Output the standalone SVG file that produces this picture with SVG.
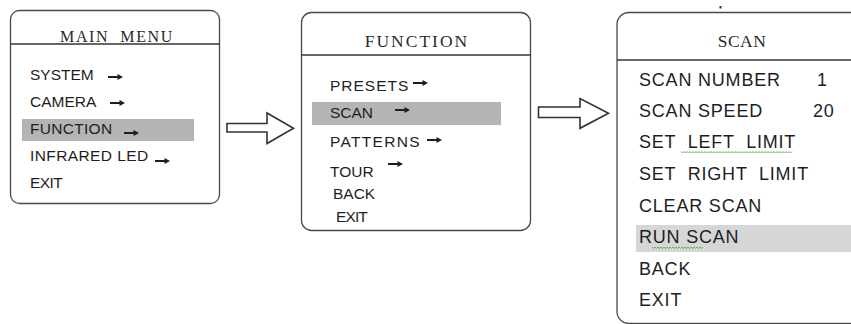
<svg xmlns="http://www.w3.org/2000/svg" width="851" height="324" viewBox="0 0 851 324">
<style>
.box{fill:#fff;stroke:#4a4a4a;stroke-width:1.3}
.hdr{stroke:#333;stroke-width:1.3}
.ttl{font-family:"Liberation Serif",serif;fill:#2a2a2a;text-anchor:middle}
.it{font-family:"Liberation Sans",Arial,sans-serif;fill:#1e1e1e}
.it15{font-size:15.5px}
.it18{font-size:18px;letter-spacing:0.8px}
.big{fill:#fff;stroke:#333;stroke-width:1.6;stroke-linejoin:miter}
.sq{fill:none;stroke:#4caf50;stroke-width:0.9}
</style>
<defs>
<symbol id="sa" viewBox="0 0 15 8" width="15" height="8" overflow="visible">
<path d="M0 3H9.5V1L15 4L9.5 7V5H0Z" fill="#1e1e1e"/>
</symbol>
</defs>
<rect width="851" height="324" fill="#fff"/>

<g id="main-menu">
<rect class="box" x="10.5" y="10.5" width="209" height="193" rx="9"/>
<line class="hdr" x1="10.5" y1="44" x2="219.5" y2="44"/>
<text class="ttl" x="117" y="42" font-size="16" letter-spacing="1.6">MAIN&#160; MENU</text>
<rect x="22" y="119" width="172" height="22" fill="#b4b4b4"/>
<text class="it it15" x="30" y="80" letter-spacing="0">SYSTEM</text>
<use href="#sa" x="108" y="73"/>
<text class="it it15" x="30" y="107" letter-spacing="0">CAMERA</text>
<use href="#sa" x="110" y="99"/>
<text class="it it15" x="30" y="134" letter-spacing="0.3">FUNCTION</text>
<use href="#sa" x="124" y="129"/>
<text class="it it15" x="30" y="161" letter-spacing="0.4">INFRARED LED</text>
<use href="#sa" x="155" y="157"/>
<text class="it it15" x="30" y="188" letter-spacing="-0.6">EXIT</text>
</g>

<g id="function-menu">
<rect class="box" x="301.5" y="12.5" width="229" height="218" rx="10"/>
<line class="hdr" x1="301.5" y1="55" x2="530.5" y2="55"/>
<text class="ttl" x="417" y="47" font-size="17.5" letter-spacing="2">FUNCTION</text>
<rect x="312" y="102" width="189" height="23" fill="#b4b4b4"/>
<text class="it it15" x="330" y="91" letter-spacing="1">PRESETS</text>
<use href="#sa" x="413" y="79"/>
<text class="it it15" x="330" y="118">SCAN</text>
<use href="#sa" x="395" y="106"/>
<text class="it it15" x="330" y="147" letter-spacing="1.3">PATTERNS</text>
<use href="#sa" x="427" y="136"/>
<text class="it it15" x="330" y="177">TOUR</text>
<use href="#sa" x="388" y="160"/>
<text class="it it15" x="333" y="199">BACK</text>
<text class="it it15" x="336" y="222" letter-spacing="-0.9">EXIT</text>
</g>

<g id="scan-menu">
<rect x="719.5" y="6" width="2" height="2.5" fill="#333"/>
<rect class="box" x="617" y="12.5" width="270" height="311" rx="12"/>
<line class="hdr" x1="617" y1="60" x2="851" y2="60"/>
<text class="ttl" x="742" y="47" font-size="17.5" letter-spacing="0.5">SCAN</text>
<rect x="636" y="225" width="215" height="27" fill="#d6d6d6"/>
<text class="it it18" x="639" y="86">SCAN NUMBER</text>
<text class="it it18" x="817" y="86">1</text>
<text class="it it18" x="639" y="117">SCAN SPEED</text>
<text class="it it18" x="813" y="117">20</text>
<text class="it it18" x="639" y="148" xml:space="preserve">SET  LEFT  LIMIT</text>
<path class="sq" d="M681 151.5l1.5 1.5l1.5-1.5l1.5 1.5l1.5-1.5l1.5 1.5l1.5-1.5l1.5 1.5l1.5-1.5l1.5 1.5l1.5-1.5l1.5 1.5l1.5-1.5l1.5 1.5l1.5-1.5l1.5 1.5l1.5-1.5l1.5 1.5l1.5-1.5l1.5 1.5l1.5-1.5l1.5 1.5l1.5-1.5l1.5 1.5l1.5-1.5l1.5 1.5l1.5-1.5l1.5 1.5l1.5-1.5l1.5 1.5l1.5-1.5l1.5 1.5l1.5-1.5l1.5 1.5l1.5-1.5l1.5 1.5l1.5-1.5l1.5 1.5l1.5-1.5l1.5 1.5l1.5-1.5l1.5 1.5l1.5-1.5l1.5 1.5l1.5-1.5l1.5 1.5l1.5-1.5l1.5 1.5l1.5-1.5l1.5 1.5l1.5-1.5l1.5 1.5l1.5-1.5l1.5 1.5l1.5-1.5l1.5 1.5l1.5-1.5l1.5 1.5l1.5-1.5l1.5 1.5l1.5-1.5l1.5 1.5l1.5-1.5l1.5 1.5l1.5-1.5l1.5 1.5l1.5-1.5l1.5 1.5l1.5-1.5l1.5 1.5l1.5-1.5l1.5 1.5l1.5-1.5l1.5 1.5l1.5-1.5"/>
<text class="it it18" x="639" y="180" xml:space="preserve">SET  RIGHT  LIMIT</text>
<text class="it it18" x="639" y="212">CLEAR SCAN</text>
<text class="it it18" x="639" y="243">RUN SCAN</text>
<path class="sq" d="M652 247l1.5 1.5l1.5-1.5l1.5 1.5l1.5-1.5l1.5 1.5l1.5-1.5l1.5 1.5l1.5-1.5l1.5 1.5l1.5-1.5l1.5 1.5l1.5-1.5l1.5 1.5l1.5-1.5l1.5 1.5l1.5-1.5l1.5 1.5l1.5-1.5l1.5 1.5l1.5-1.5l1.5 1.5l1.5-1.5l1.5 1.5l1.5-1.5l1.5 1.5l1.5-1.5l1.5 1.5l1.5-1.5l1.5 1.5l1.5-1.5l1.5 1.5l1.5-1.5l1.5 1.5l1.5-1.5"/>
<text class="it it18" x="639" y="275">BACK</text>
<text class="it it18" x="639" y="306">EXIT</text>
</g>

<g id="connectors">
<path class="big" d="M227 123.5H267V113L293.5 128.3L267 143.5V132H227Z"/>
<path class="big" d="M538.5 107H580V98.5L608.5 113.3L580 128.3V117.5H538.5Z"/>
</g>
</svg>
